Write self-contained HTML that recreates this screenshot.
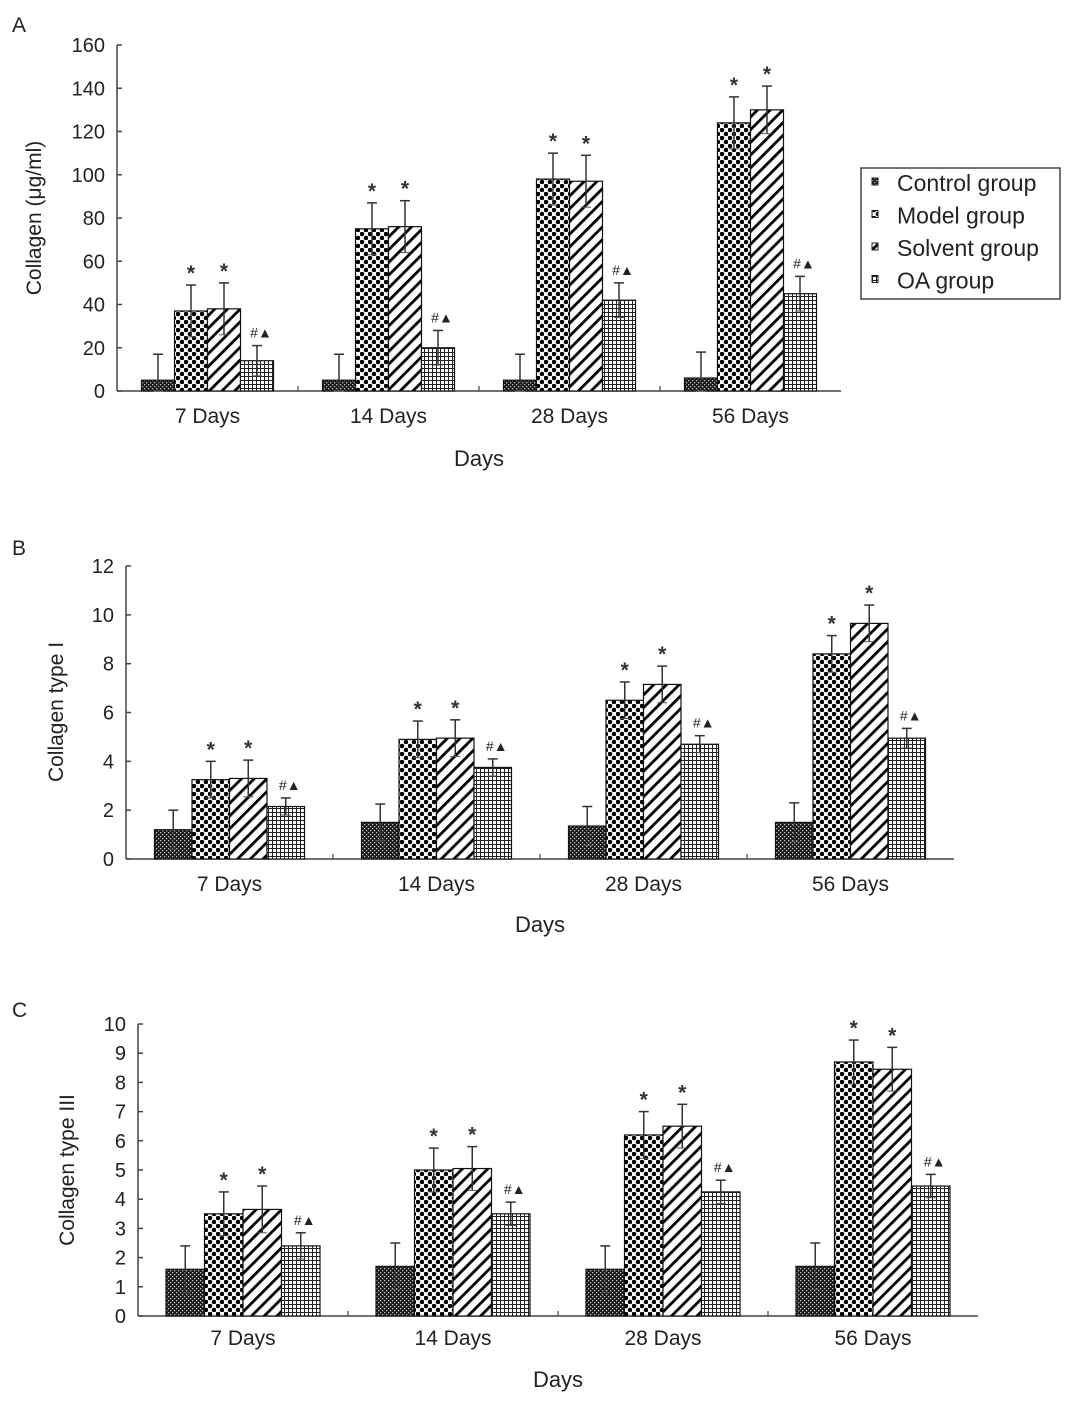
<!DOCTYPE html>
<html><head><meta charset="utf-8"><style>
html,body{margin:0;padding:0;background:#fff;}
svg{display:block;font-family:"Liberation Sans",Arial,sans-serif;}
</style></head><body>
<svg id="chart" width="1074" height="1404" viewBox="0 0 1074 1404" xmlns="http://www.w3.org/2000/svg">
<defs>
<pattern id="pControl" width="4" height="4" patternUnits="userSpaceOnUse"><rect width="4" height="4" fill="#1a1a1a"/><rect x="0" y="0" width="1.3" height="1.3" fill="#bbb"/><rect x="2" y="2" width="1.3" height="1.3" fill="#bbb"/></pattern>
<pattern id="pModel" width="8" height="8" patternUnits="userSpaceOnUse"><rect width="8" height="8" fill="#fff"/><circle cx="2" cy="2" r="2.3" fill="#000"/><circle cx="6" cy="6" r="2.3" fill="#000"/></pattern>
<pattern id="pSolvent" width="9" height="9" patternUnits="userSpaceOnUse" patternTransform="rotate(45)"><rect width="9" height="9" fill="#fff"/><rect x="0" y="0" width="2.8" height="9" fill="#000"/></pattern>
<pattern id="pOA" width="4" height="4" patternUnits="userSpaceOnUse"><rect width="4" height="4" fill="#fff"/><rect x="0" y="0" width="4" height="1" fill="#222"/><rect x="0" y="0" width="1" height="4" fill="#222"/></pattern>
</defs>
</svg>
<script>
const categories = ["7 Days","14 Days","28 Days","56 Days"];
const groups = ["Control group","Model group","Solvent group","OA group"];
const aTicks = [0,20,40,60,80,100,120,140,160];
const aControl = [5,5,5,6];
const aModel = [37,75,98,124];
const aSolvent = [38,76,97,130];
const aOA = [14,20,42,45];
const aControlErr = [12,12,12,12];
const aModelErr = [12,12,12,12];
const aSolventErr = [12,12,12,11];
const aOAErr = [7,8,8,8];
const bTicks = [0,2,4,6,8,10,12];
const bControl = [1.2,1.5,1.35,1.5];
const bModel = [3.25,4.9,6.5,8.4];
const bSolvent = [3.3,4.95,7.15,9.65];
const bOA = [2.15,3.75,4.7,4.95];
const bControlErr = [0.8,0.75,0.8,0.8];
const bModelErr = [0.75,0.75,0.75,0.75];
const bSolventErr = [0.75,0.75,0.75,0.75];
const bOAErr = [0.35,0.35,0.35,0.4];
const cTicks = [0,1,2,3,4,5,6,7,8,9,10];
const cControl = [1.6,1.7,1.6,1.7];
const cModel = [3.5,5.0,6.2,8.7];
const cSolvent = [3.65,5.05,6.5,8.45];
const cOA = [2.4,3.5,4.25,4.45];
const cControlErr = [0.8,0.8,0.8,0.8];
const cModelErr = [0.75,0.75,0.8,0.75];
const cSolventErr = [0.8,0.75,0.75,0.75];
const cOAErr = [0.45,0.4,0.4,0.4];

const svg = document.getElementById('chart');
const NS = 'http://www.w3.org/2000/svg';
function mk(tag, attrs, parent){const e=document.createElementNS(NS,tag);for(const k in attrs)e.setAttribute(k,attrs[k]);(parent||svg).appendChild(e);return e;}
function txt(s, attrs, parent){const e=mk('text',attrs,parent);e.textContent=s;return e;}
const fills=['url(#pControl)','url(#pModel)','url(#pSolvent)','url(#pOA)'];
const keys=['control','model','solvent','oa'];

function panel(p){
  const g=mk('g',{});
  
  
  const yS=v=>p.y0-(v/p.max)*(p.y0-p.yTop);
  const gw=(p.x1-p.x0)/categories.length;
  const xS=(ci,si)=>p.x0+gw*ci+gw/2-2*p.bw+si*p.bw;
  const l=txt(p.letter,{x:12,y:p.letterY,'font-size':21,fill:'#222'},g);
  
  
  const ya=mk('line',{x1:p.x0,y1:p.y0,x2:p.x0,y2:p.yTop,stroke:'#444','stroke-width':1.5},g);
  
  
  const xa=mk('line',{x1:p.x0,y1:p.y0,x2:p.x1,y2:p.y0,stroke:'#444','stroke-width':1.5},g);
  
  
  p.ticks.forEach(t=>{
    const y=yS(t);
    mk('line',{x1:p.x0,y1:y,x2:p.x0+5,y2:y,stroke:'#444','stroke-width':1.5},g);
    const tl=txt(String(t),{x:p.x0-12,y:y+7,'font-size':20,'text-anchor':'end',fill:'#222'},g);
    
    
  });
  for(let i=1;i<categories.length;i++){const x=p.x0+gw*i;mk('line',{x1:x,y1:p.y0,x2:x,y2:p.y0-5,stroke:'#444','stroke-width':1.2},g);}
  categories.forEach((c,ci)=>{
    const cl=txt(c,{x:p.x0+gw*ci+gw/2,y:p.catY,'font-size':21,'text-anchor':'middle',fill:'#222'},g);
    
    
    p.series.forEach((s,si)=>{
      const v=s[ci], e=p.errs[si][ci];
      const x=xS(ci,si), y=yS(v);
      const r=mk('rect',{x:x,y:y,width:p.bw,height:p.y0-y,fill:fills[si],stroke:'#111','stroke-width':1.2},g);
      
      
      const cx=x+p.bw/2, yt=yS(v+e), yb=yS(Math.max(0,v-e));
      mk('line',{x1:cx,y1:yt,x2:cx,y2:yb,stroke:'#333','stroke-width':1.5},g);
      mk('line',{x1:cx-5,y1:yt,x2:cx+5,y2:yt,stroke:'#333','stroke-width':1.5},g);
      mk('line',{x1:cx-5,y1:yb,x2:cx+5,y2:yb,stroke:'#555','stroke-width':1},g);
      if(si===1||si===2){
        const st=txt('*',{x:cx,y:yt-5,'font-size':21,'font-weight':'bold','text-anchor':'middle',fill:'#333'},g);
        
        
      } else if(si===3){
        const st=txt('#▲',{x:cx+4,y:yt-8,'font-size':14,'text-anchor':'middle',fill:'#222'},g);
        
        
      }
    });
  });
  const xt=txt('Days',{x:p.daysX,y:p.daysY,'font-size':22,'text-anchor':'middle',fill:'#222'},g);
  
  
  const yt=txt(p.ytitle,{x:0,y:0,'font-size':21,'text-anchor':'middle',fill:'#222',transform:`translate(${p.ytx},${p.yty}) rotate(-90)`},g);
  
  
}

panel({letter:'A',letterY:32,x0:117,x1:841,y0:391,yTop:45,max:160,bw:33,ticks:aTicks,
  series:[aControl,aModel,aSolvent,aOA],errs:[aControlErr,aModelErr,aSolventErr,aOAErr],
  catY:423,daysX:479,daysY:466,ytitle:'Collagen (μg/ml)',ytx:41,yty:218});
panel({letter:'B',letterY:555,x0:126,x1:954,y0:859,yTop:566,max:12,bw:37.5,ticks:bTicks,
  series:[bControl,bModel,bSolvent,bOA],errs:[bControlErr,bModelErr,bSolventErr,bOAErr],
  catY:891,daysX:540,daysY:932,ytitle:'Collagen type I',ytx:63,yty:712});
panel({letter:'C',letterY:1017,x0:138,x1:978,y0:1316,yTop:1024,max:10,bw:38.5,ticks:cTicks,
  series:[cControl,cModel,cSolvent,cOA],errs:[cControlErr,cModelErr,cSolventErr,cOAErr],
  catY:1345,daysX:558,daysY:1387,ytitle:'Collagen type III',ytx:74,yty:1170});

const lg=mk('g',{});


mk('rect',{x:861,y:168,width:199,height:131,fill:'#fff',stroke:'#444','stroke-width':1.5},lg);
groups.forEach((n,i)=>{
  const y=183+i*32.5;
  const e=mk('g',{},lg);
  
  
  mk('rect',{x:872,y:y-5,width:6,height:7,fill:fills[i],stroke:'#222','stroke-width':1},e);
  txt(n,{x:897,y:y+8,'font-size':23,fill:'#222'},e);
});
</script>
</body></html>
